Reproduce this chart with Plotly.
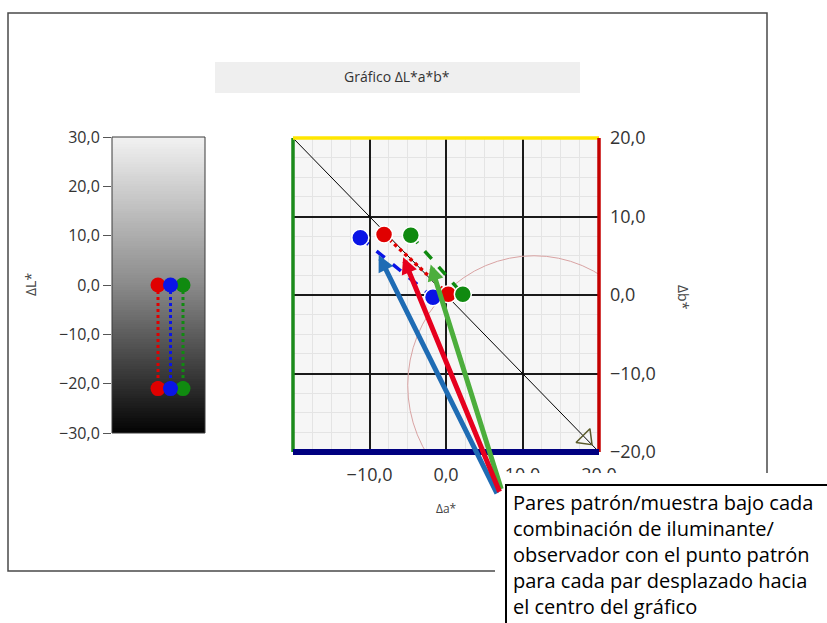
import numpy as np
import plotly.graph_objects as go

# ---- data -------------------------------------------------------------
pair_names = ["Par 1", "Par 2", "Par 3"]
pair_colors = ["#e00000", "#0a14e6", "#108a10"]

# lightness differences (standard / sample)
dL_std = [0.0, 0.0, 0.0]
dL_smp = [-21.0, -21.0, -21.0]

# chromaticity differences (standard / sample)
da_std = [0.3, -1.7, 2.2]
db_std = [0.1, -0.3, 0.1]
da_smp = [-8.1, -11.2, -4.6]
db_smp = [7.7, 7.3, 7.6]

L_ticks = [30, 20, 10, 0, -10, -20, -30]
a_ticks = [-10, 0, 10, 20]
b_ticks = [20, 10, 0, -10, -20]

W, H = 827, 623


def px(x):
    return x / W


def py(y):
    return 1 - y / H


FONT = "Open Sans, Noto Sans, DejaVu Sans, sans-serif"
TICK_COL = "#333333"

fig = go.Figure()

# ---- left panel: grey lightness bar ------------------------------------
L_RANGE = [-3.68, 3.76]
edges = np.linspace(-30, 30, 121)
centers = (edges[:-1] + edges[1:]) / 2
fig.add_trace(go.Heatmap(
    x=L_RANGE, y=edges, z=[[v] for v in centers],
    colorscale=[[0, "#030303"], [0.5, "#8a8a8a"], [1, "#f2f2f2"]],
    zmin=-30, zmax=30, showscale=False, hoverinfo="skip",
    xaxis="x", yaxis="y"))

draw_order = [0, 2, 1]
for i in draw_order:
    fig.add_trace(go.Scatter(
        x=[i, i], y=[dL_std[i], dL_smp[i]], mode="lines+markers",
        line=dict(color=pair_colors[i], width=3, dash="dot"),
        marker=dict(color=pair_colors[i], size=15),
        name=pair_names[i], showlegend=False, xaxis="x", yaxis="y"))

# ---- main panel: a*b* plane --------------------------------------------
diag_x = [-20, 20]
diag_y = [20, -20]
fig.add_trace(go.Scatter(
    x=diag_x, y=diag_y, mode="lines", line=dict(color="black", width=1),
    showlegend=False, hoverinfo="skip", xaxis="x2", yaxis="y2"))
fig.add_trace(go.Scatter(
    x=[diag_x[1] * 0.915], y=[diag_y[1] * 0.915], mode="markers",
    marker=dict(symbol="triangle-up-open", angle=135, size=17,
                color="#5a5a2a", line=dict(width=1.5)),
    showlegend=False, hoverinfo="skip", xaxis="x2", yaxis="y2"))

dash_style = {0: "dot", 1: "dash", 2: "dash"}
for i in [0, 2, 1]:
    fig.add_trace(go.Scatter(
        x=[da_smp[i], da_std[i]], y=[db_smp[i], db_std[i]],
        mode="lines+markers",
        line=dict(color=pair_colors[i], width=3.5, dash=dash_style[i]),
        marker=dict(color=pair_colors[i], size=17,
                    line=dict(color="white", width=1.5)),
        name=pair_names[i], showlegend=False, xaxis="x2", yaxis="y2"))

shapes = []
# tolerance circle
shapes.append(dict(type="circle", xref="x2", yref="y2", x0=-5, x1=28, y0=-28, y1=5,
                   line=dict(color="#d9a3a3", width=1), layer="between"))
# coloured frame of the a*b* plane
for (x0, y0, x1, y1, col, w) in [
        (0, 0, 0, 1, "#1b8a1b", 3.5),
        (0, 1, 1, 1, "#ffe600", 3.5),
        (1, 0, 1, 1, "#c40000", 3.5),
        (0, 0, 1, 0, "#000080", 6)]:
    shapes.append(dict(type="line", xref="x2 domain", yref="y2 domain",
                       x0=x0, y0=y0, x1=x1, y1=y1,
                       line=dict(color=col, width=w), layer="above"))
# outline of the lightness bar
shapes.append(dict(type="rect", xref="x domain", yref="y domain", x0=0, x1=1, y0=0, y1=1,
                   line=dict(color="#3a3a3a", width=1), layer="above"))
# outer frame
shapes.append(dict(type="rect", xref="paper", yref="paper",
                   x0=px(8), x1=px(767), y0=py(571), y1=py(13),
                   line=dict(color="#4a4a4a", width=1.5)))
# title band
shapes.append(dict(type="rect", xref="paper", yref="paper",
                   x0=px(215), x1=px(580), y0=py(93), y1=py(62),
                   fillcolor="#efefef", line=dict(width=0), layer="below"))
# callout box
shapes.append(dict(type="rect", xref="paper", yref="paper",
                   x0=px(495), x1=px(840), y0=py(640), y1=py(473),
                   fillcolor="white", line=dict(width=0), layer="above"))
shapes.append(dict(type="rect", xref="paper", yref="paper",
                   x0=px(506), x1=px(840), y0=py(640), y1=py(485),
                   fillcolor="white", line=dict(color="black", width=2), layer="above"))


def label(text, x, y, size, angle=0, color="#444444"):
    return dict(text=text, xref="paper", yref="paper", x=px(x), y=py(y),
                xanchor="center", yanchor="middle", textangle=angle,
                showarrow=False, font=dict(family=FONT, size=size, color=color))


annotations = [
    label("Gráfico ΔL*a*b*", 397, 77, 14, color="#333333"),
    label("ΔL*", 30, 285, 14, angle=-90),
    label("Δb*", 684, 297, 14, angle=90),
    label("Δa*", 447, 508, 12),
]

# arrows pointing at the dashed pairs
arrow_tips = [(-8.8, 5.1, 119, 240, "#1f6cb4"),
              (-2.0, 3.9, 71, 226, "#4cae3c"),
              (-5.6, 4.8, 97, 236, "#e6001e")]
for (ax_, ay_, dx, dy, col) in arrow_tips:
    annotations.append(dict(
        text="", xref="x2", yref="y2", x=ax_, y=ay_, ax=dx, ay=dy,
        showarrow=True, arrowhead=2, arrowsize=0.65, arrowwidth=5, arrowcolor=col))

annotations.append(dict(
    text=("Pares patrón/muestra bajo cada<br>combinación de iluminante/<br>"
          "observador con el punto patrón<br>para cada par desplazado hacia<br>"
          "el centro del gráfico"),
    xref="paper", yref="paper", x=px(511), y=py(487), xanchor="left", yanchor="top",
    align="left", showarrow=False, font=dict(family=FONT, size=20, color="black")))

fig.update_layout(
    width=W, height=H, margin=dict(l=0, r=0, t=0, b=0, pad=0, autoexpand=False),
    paper_bgcolor="white", plot_bgcolor="#f6f6f6",
    separators=",.", showlegend=False,
    xaxis=dict(domain=[px(112), px(205)], range=L_RANGE, visible=False, fixedrange=True),
    yaxis=dict(domain=[py(433), py(137)], range=[-30, 30], tickvals=L_ticks,
               tickformat=".1f", ticks="outside", ticklen=8, tickcolor="#555555",
               showgrid=False, zeroline=False, showline=False, automargin=False,
               tickfont=dict(family=FONT, size=16, color=TICK_COL)),
    xaxis2=dict(domain=[px(293), px(599)], range=[-20, 20], anchor="y2",
                tickvals=a_ticks, tickformat=".1f", ticks="", ticklabelstandoff=10,
                showgrid=True, gridcolor="#1a1a1a", gridwidth=1.5, zeroline=False,
                automargin=False,
                minor=dict(dtick=2.5, showgrid=True, gridcolor="#e4e4e4", gridwidth=1),
                tickfont=dict(family=FONT, size=18, color=TICK_COL)),
    yaxis2=dict(domain=[py(452), py(138)], range=[-20, 20], anchor="x2", side="right",
                tickvals=b_ticks, tickformat=".1f", ticks="", ticklabelstandoff=10,
                showgrid=True, gridcolor="#1a1a1a", gridwidth=1.5, zeroline=False,
                automargin=False,
                minor=dict(dtick=2.5, showgrid=True, gridcolor="#e4e4e4", gridwidth=1),
                tickfont=dict(family=FONT, size=18, color=TICK_COL)),
    shapes=shapes, annotations=annotations,
)

fig.write_html("out.html")
